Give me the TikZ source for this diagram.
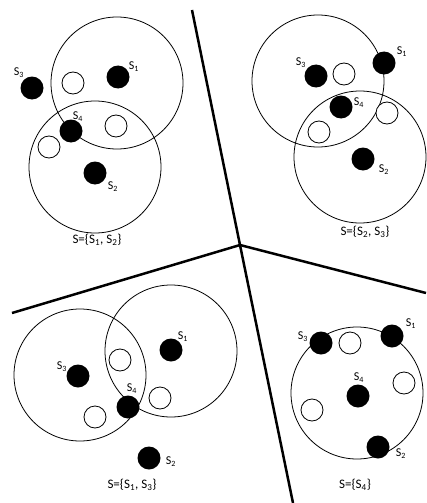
\documentclass[tikz,border=0pt]{standalone}
\usepackage{fontspec}
\setmainfont{Carlito}
\usetikzlibrary{positioning}
\begin{document}
\begin{tikzpicture}[x=1pt,y=-1pt,
    sensor/.style={circle,fill=black,inner sep=0pt,minimum size=23pt},
    target/.style={circle,draw,fill=white,line width=0.8pt,inner sep=0pt,minimum size=22pt},
    reach/.style={line width=0.8pt},
    border/.style={line width=2.5pt},
    tag/.style={font=\fontsize{12}{14}\selectfont,inner sep=0pt},
    caption/.style={font=\fontsize{13}{15}\selectfont,inner sep=0pt}]
  \useasboundingbox (0,0) rectangle (426,503);
  \coordinate (mid) at (240,245);
  \coordinate (top) at (192,10);
  \coordinate (bot) at (293,503);
  \coordinate (lft) at (12,313);
  \coordinate (rgt) at (426,293);
  \draw[border] (top) -- (mid) -- (bot);
  \draw[border] (lft) -- (mid) -- (rgt);
  % top left
  \draw[reach] (117,83) circle[radius=66pt];
  \draw[reach] (95,167) circle[radius=66pt];
  \node[target] (at1) at (73,83) {};
  \node[target] (at2) at (116,126) {};
  \node[target] (at3) at (49,147) {};
  \node[sensor] (as1) at (118,77) {};
  \node[sensor] (as2) at (95,173) {};
  \node[sensor] (as3) at (32,88) {};
  \node[sensor] (as4) at (71,131) {};
  \node[tag] at (134,67) {S\textsubscript{1}};
  \node[tag] at (113,187) {S\textsubscript{2}};
  \node[tag] at (19,73) {S\textsubscript{3}};
  \node[tag] at (78,117) {S\textsubscript{4}};
  \node[caption] (acap) at (97,240) {S=\{S\textsubscript{1}, S\textsubscript{2}\}};
  % top right
  \draw[reach] (318,81) circle[radius=66pt];
  \draw[reach] (360,157) circle[radius=66pt];
  \node[target] (bt1) at (344,74) {};
  \node[target] (bt2) at (387,113) {};
  \node[target] (bt3) at (319,132) {};
  \node[sensor] (bs1) at (384,63) {};
  \node[sensor] (bs2) at (363,159) {};
  \node[sensor] (bs3) at (316,76) {};
  \node[sensor] (bs4) at (341,107) {};
  \node[tag] at (402,52) {S\textsubscript{1}};
  \node[tag] at (384,170) {S\textsubscript{2}};
  \node[tag] at (301,63) {S\textsubscript{3}};
  \node[tag] at (359,103) {S\textsubscript{4}};
  \node[caption] (bcap) at (365,232) {S=\{S\textsubscript{2}, S\textsubscript{3}\}};
  % bottom left
  \draw[reach] (80,375) circle[radius=66pt];
  \draw[reach] (171,351) circle[radius=66pt];
  \node[target] (ct1) at (120,360) {};
  \node[target] (ct2) at (160,398) {};
  \node[target] (ct3) at (95,417) {};
  \node[sensor] (cs1) at (171,350) {};
  \node[sensor] (cs2) at (149,458) {};
  \node[sensor] (cs3) at (78,376) {};
  \node[sensor] (cs4) at (128,407) {};
  \node[tag] at (183,337) {S\textsubscript{1}};
  \node[tag] at (171,462) {S\textsubscript{2}};
  \node[tag] at (62,367) {S\textsubscript{3}};
  \node[tag] at (132,389) {S\textsubscript{4}};
  \node[caption] (ccap) at (132,485) {S=\{S\textsubscript{1}, S\textsubscript{3}\}};
  % bottom right
  \draw[reach] (357,393) circle[radius=66pt];
  \node[target] (dt1) at (350,343) {};
  \node[target] (dt2) at (404,383) {};
  \node[target] (dt3) at (312,410) {};
  \node[sensor] (ds1) at (392,336) {};
  \node[sensor] (ds2) at (378,447) {};
  \node[sensor] (ds3) at (321,343) {};
  \node[sensor] (ds4) at (358,396) {};
  \node[tag] at (411,324) {S\textsubscript{1}};
  \node[tag] at (401,454) {S\textsubscript{2}};
  \node[tag] at (303,337) {S\textsubscript{3}};
  \node[tag] at (359,378) {S\textsubscript{4}};
  \node[caption] (dcap) at (355,485) {S=\{S\textsubscript{4}\}};
\end{tikzpicture}
\end{document}
